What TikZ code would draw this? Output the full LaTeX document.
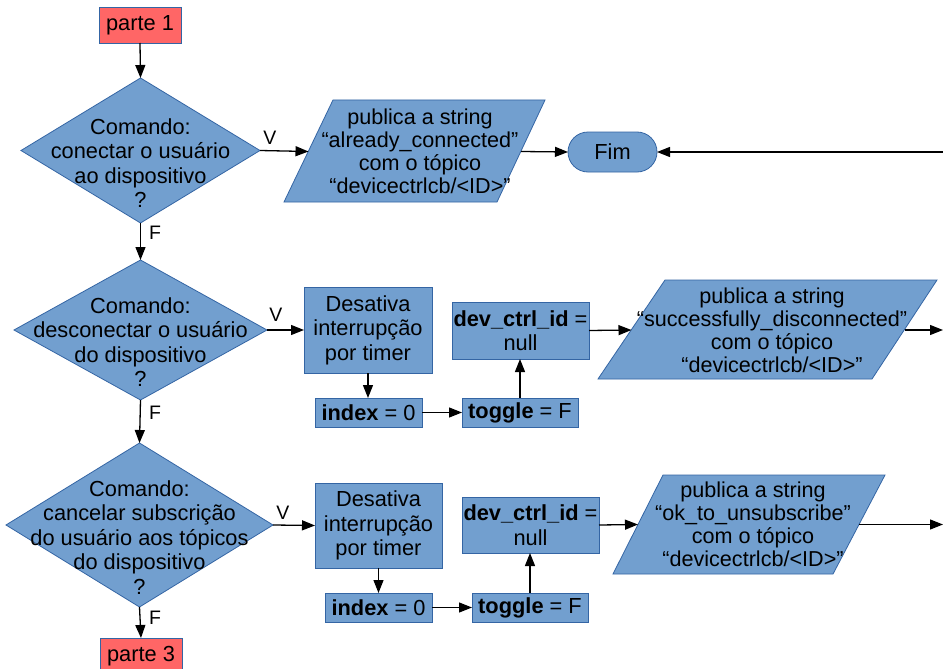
\documentclass[tikz,border=0pt]{standalone}
\usepackage{fontspec}
\setmainfont{Liberation Sans}
\usetikzlibrary{shapes.geometric,arrows.meta}
\definecolor{bfill}{HTML}{729FCF}
\definecolor{bline}{HTML}{3465A4}
\definecolor{rfill}{HTML}{FF6666}
\begin{document}
\begin{tikzpicture}[x=1pt,y=-1pt,
  every node/.style={font=\fontsize{21.8}{24.5}\selectfont, inner sep=0pt, outer sep=0pt},
  box/.style={draw=bline, fill=bfill, line width=0.8pt, align=center},
  redbox/.style={draw=bline, fill=rfill, line width=0.8pt},
  dec/.style={diamond, draw=bline, fill=bfill, line width=0.8pt},
  para/.style={draw=bline, fill=bfill, line width=0.8pt},
  ptext/.style={align=center, font=\fontsize{21.6}{23}\selectfont},
  arr/.style={line width=1.3pt, -{Triangle[length=13pt,width=10pt]}},
  lab/.style={font=\fontsize{19.5}{22}\selectfont},
]
\useasboundingbox[fill=white] (0,0) rectangle (943,669);

% ---------- row 1 ----------
\node[redbox, minimum width=82, minimum height=36] (pa1) at (140,25) {parte 1};
\node[dec, minimum width=239, minimum height=145] (d1) at (140.5,150.5) {};
\node[align=center] (d1t) at (140.5,163) {Comando:\\conectar o usuário\\ao dispositivo\\?};

\draw[para] (333,100) -- (545,100) -- (497,202) -- (284,202) -- cycle;
\node[ptext] (pt1) at (420,151.5) {publica a string\\“already\_connected”\\com o tópico\\“devicectrlcb/<ID>”};
\coordinate (p1w) at (308.5,151.5);
\coordinate (p1e) at (521,151.5);

\node[box, rounded corners=20pt, minimum width=89, minimum height=40] (fim) at (612.5,152) {Fim};
\coordinate (e1) at (943,152);

\node[lab] (v1) at (270,138) {V};
\node[lab] (f1) at (155,233) {F};

% ---------- row 2 ----------
\node[dec, minimum width=253, minimum height=140] (d2) at (140.5,330) {};
\node[align=center] (d2t) at (140.5,342) {Comando:\\desconectar o usuário\\do dispositivo\\?};
\node[box, minimum width=128, minimum height=86] (des2) at (368,330) {Desativa\\interrupção\\por timer};
\node[box, minimum width=107, minimum height=29] (idx2) at (368.5,412.5) {\textbf{index} = 0};
\node[box, minimum width=116, minimum height=29] (tg2) at (520,412.5) {\textbf{toggle} = F};
\node[box, minimum width=137, minimum height=57] (dv2) at (520.5,330.5) {\textbf{dev\_ctrl\_id} =\\null};

\draw[para] (665,280) -- (937,280) -- (872,379) -- (598,379) -- cycle;
\node[ptext] (pt2) at (772,330) {publica a string\\“successfully\_disconnected”\\com o tópico\\“devicectrlcb/<ID>”};
\coordinate (p2w) at (631.5,330);
\coordinate (p2e) at (904.5,330);
\coordinate (e2) at (943,330);

\node[lab] (v2) at (276,315) {V};
\node[lab] (f2) at (155,413) {F};

% ---------- row 3 ----------
\node[dec, minimum width=267, minimum height=164] (d3) at (139.5,525) {};
\node[align=center] (d3t) at (139.5,537.5) {Comando:\\cancelar subscrição\\do usuário aos tópicos\\do dispositivo\\?};
\node[box, minimum width=127, minimum height=85] (des3) at (378.5,525.5) {Desativa\\interrupção\\por timer};
\node[box, minimum width=107, minimum height=29] (idx3) at (378.5,607.5) {\textbf{index} = 0};
\node[box, minimum width=116, minimum height=29] (tg3) at (530,607.5) {\textbf{toggle} = F};
\node[box, minimum width=137, minimum height=56] (dv3) at (530.5,525) {\textbf{dev\_ctrl\_id} =\\null};

\draw[para] (663,475) -- (885,475) -- (833,574) -- (613,574) -- cycle;
\node[ptext] (pt3) at (753,524.5) {publica a string\\“ok\_to\_unsubscribe”\\com o tópico\\“devicectrlcb/<ID>”};
\coordinate (p3w) at (638,524.5);
\coordinate (p3e) at (859,524.5);
\coordinate (e3) at (943,524.5);

\node[lab] (v3) at (283,513) {V};
\node[lab] (f3) at (155,618) {F};

\node[redbox, minimum width=82, minimum height=36] (pa3) at (141,656) {parte 3};

% ---------- connectors ----------
\draw[arr] (pa1.south) -- (d1.north);
\draw[arr] (d1.east) -- (p1w);
\draw[arr] (p1e) -- (fim.west);
\draw[arr] (e1) -- (fim.east);
\draw[arr] (d1.south) -- (d2.north);

\draw[arr] (d2.east) -- (des2.west);
\draw[arr] (des2.south) -- (des2.south |- idx2.north);
\draw[arr] (idx2.east) -- (tg2.west);
\draw[arr] (tg2.north) -- (tg2.north |- dv2.south);
\draw[arr] (dv2.east) -- (p2w);
\draw[arr] (p2e) -- (e2);
\draw[arr] (d2.south) -- (d3.north);

\draw[arr] (d3.east) -- (des3.west);
\draw[arr] (des3.south) -- (des3.south |- idx3.north);
\draw[arr] (idx3.east) -- (tg3.west);
\draw[arr] (tg3.north) -- (tg3.north |- dv3.south);
\draw[arr] (dv3.east) -- (p3w);
\draw[arr] (p3e) -- (e3);
\draw[arr] (d3.south) -- (pa3.north);
\end{tikzpicture}
\end{document}
